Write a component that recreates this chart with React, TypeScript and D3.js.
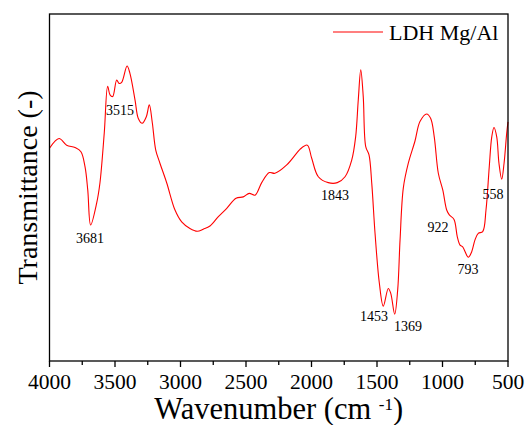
import React from "react";
import * as d3 from "d3";

// Wavenumber (cm-1) and transmittance (arbitrary units)
const wavenumbers = [
  4000, 3927, 3869, 3805, 3760, 3729, 3708, 3686, 3640, 3615, 3582, 3556, 3538, 3518, 3487, 3469, 3449, 3408, 3386, 3347,
  3322, 3292, 3261, 3238, 3215, 3189, 3157, 3105, 3042, 2991, 2928, 2872, 2826, 2775, 2711, 2647, 2576, 2521, 2475, 2431,
  2380, 2322, 2279, 2189, 2113, 2088, 2032, 1999, 1948, 1872, 1803, 1744, 1693, 1663, 1643, 1624, 1605, 1586, 1561, 1540,
  1515, 1482, 1452, 1414, 1395, 1365, 1342, 1324, 1299, 1261, 1210, 1172, 1121, 1090, 1063, 1032, 998, 968, 948, 912,
  887, 866, 846, 803, 777, 752, 727, 693, 668, 643, 624, 607, 586, 569, 548, 530, 510, 500,
];
const transmittance = [
  61.3, 64.1, 62.2, 61.5, 60.3, 56.0, 49.3, 39.2, 45.5, 51.3, 65.7, 79.2, 76.7, 76.2, 81.0, 80.0, 80.3, 85.0, 82.9, 75.2,
  69.9, 68.5, 70.4, 73.8, 68.6, 60.8, 57.0, 51.3, 43.5, 40.1, 38.2, 37.4, 38.0, 38.9, 41.6, 44.0, 46.9, 47.3, 48.3, 47.8,
  51.4, 54.3, 54.1, 56.5, 59.9, 61.0, 62.2, 58.5, 53.1, 51.4, 51.4, 53.1, 57.9, 64.6, 75.2, 83.9, 76.2, 61.8, 59.4, 51.2,
  36.8, 22.4, 15.8, 20.9, 19.5, 13.5, 20.5, 34.9, 49.9, 57.0, 63.4, 69.0, 71.2, 69.9, 64.6, 54.1, 49.3, 43.5, 42.1, 40.8,
  35.8, 33.4, 32.9, 29.9, 31.5, 34.9, 36.8, 37.3, 43.5, 56.0, 64.6, 67.3, 64.6, 57.0, 52.4, 57.0, 65.6, 68.9,
];

// Peak annotations: label, wavenumber at label centre, transmittance at label baseline
const peakLabels = ["3681", "3515", "1843", "1453", "1369", "922", "793", "558"];
const peakLabelWn = [3691, 3462, 1821, 1523, 1263, 1034, 805, 614];
const peakLabelT = [34.1, 70.9, 46.4, 11.6, 8.7, 37.3, 25.1, 46.7];

const xTicks = [4000, 3500, 3000, 2500, 2000, 1500, 1000, 500];
const xMinorTicks = [3750, 3250, 2750, 2250, 1750, 1250, 750];

const seriesName = "LDH Mg/Al";

const W = 527;
const H = 425;
const margin = { left: 49.5, right: 19, top: 14, bottom: 64 };
const FONT = "Liberation Serif";

export default function App() {
  const x = d3.scaleLinear().domain([4000, 500]).range([margin.left, W - margin.right]);
  const y = d3.scaleLinear().domain([0, 100]).range([H - margin.bottom, margin.top]);
  const pts: [number, number][] = wavenumbers.map((w, i) => [w, transmittance[i]]);
  const line = d3
    .line<[number, number]>()
    .x((d) => x(d[0]))
    .y((d) => y(d[1]))
    .curve(d3.curveCatmullRom.alpha(0.5));
  const x0 = x(4000);
  const x1 = x(500);
  const y0 = y(0);
  const y1 = y(100);
  const ts = { fontFamily: FONT } as React.CSSProperties;
  return (
    <svg width={W} height={H} style={{ position: "absolute", left: 0, top: 0, background: "#fff" }}>
      <rect x={0} y={0} width={W} height={H} fill="#fff" />
      <path d={line(pts) || ""} fill="none" stroke="#ff0000" strokeWidth={1.1} />
      <rect x={x0} y={y1} width={x1 - x0} height={y0 - y1} fill="none" stroke="#000" strokeWidth={1.3} />
      {xTicks.map((t) => (
        <g key={t}>
          <line x1={x(t)} x2={x(t)} y1={y0} y2={y0 + 6} stroke="#000" strokeWidth={1.3} />
          <text x={x(t)} y={y0 + 28} textAnchor="middle" fontSize={21.5} fill="#000" style={ts}>
            {t}
          </text>
        </g>
      ))}
      {xMinorTicks.map((t) => (
        <line key={t} x1={x(t)} x2={x(t)} y1={y0} y2={y0 + 4} stroke="#000" strokeWidth={1.3} />
      ))}
      {peakLabels.map((l, i) => (
        <text
          key={l}
          x={x(peakLabelWn[i])}
          y={y(peakLabelT[i])}
          textAnchor="middle"
          fontSize={14}
          fill="#000"
          style={ts}
        >
          {l}
        </text>
      ))}
      <text x={(x0 + x1) / 2} y={H - 6} textAnchor="middle" fontSize={30.5} fill="#000" style={ts}>
        Wavenumber (cm{" "}
        <tspan dy={-9} fontSize={17}>
          -1
        </tspan>
        <tspan dy={9}>)</tspan>
      </text>
      <text
        transform={`translate(37,${(y0 + y1) / 2}) rotate(-90)`}
        textAnchor="middle"
        fontSize={28}
        fill="#000"
        style={ts}
      >
        Transmittance (-)
      </text>
      <line x1={333} x2={383} y1={32} y2={32} stroke="#ff0000" strokeWidth={1.2} />
      <text x={389} y={39.5} fontSize={22} fill="#000" style={ts}>
        {seriesName}
      </text>
    </svg>
  );
}
